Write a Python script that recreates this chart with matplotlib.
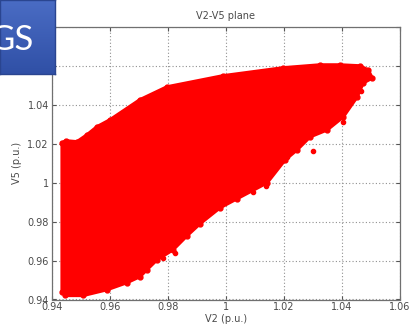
import numpy as np
import matplotlib.pyplot as plt

# outline of the V2/V5 operating-point cloud, traced clockwise from lower left
v2_edge = [0.9436, 0.9436, 0.9449, 0.9487, 0.9522, 0.9556, 0.9601, 0.9704,
           0.9797, 0.9990, 1.0197, 1.0324, 1.0393, 1.0462, 1.0490, 1.0504,
           1.0473, 1.0452, 1.0404, 1.0349, 1.0290, 1.0245, 1.0204, 1.0142,
           1.0038, 0.9980, 0.9911, 0.9866, 0.9818, 0.9763, 0.9728, 0.9704,
           0.9659, 0.9591, 0.9508, 0.9446]
v5_edge = [0.9441, 1.0205, 1.0215, 1.0210, 1.0246, 1.0287, 1.0323, 1.0426,
           1.0492, 1.0549, 1.0590, 1.0605, 1.0605, 1.0600, 1.0579, 1.0538,
           1.0513, 1.0441, 1.0338, 1.0272, 1.0236, 1.0169, 1.0118, 1.0000,
           0.9918, 0.9872, 0.9790, 0.9728, 0.9656, 0.9605, 0.9554, 0.9518,
           0.9487, 0.9451, 0.9421, 0.9421]

# isolated points just outside the dense part
stray_v2 = [1.0404, 1.0300, 1.0211, 1.0138, 0.9825, 0.9784, 1.0466, 1.0095]
stray_v5 = [1.0313, 1.0164, 1.0133, 0.9985, 0.9641, 0.9615, 1.0470, 0.9950]

xticks = [0.94, 0.96, 0.98, 1.0, 1.02, 1.04, 1.06]
xlabels = ['0.94', '0.96', '0.98', '1', '1.02', '1.04', '1.06']
yticks = [0.94, 0.96, 0.98, 1.0, 1.02, 1.04, 1.06, 1.08]
ylabels = ['0.94', '0.96', '0.98', '1', '1.02', '1.04', '', '']

W, H = 409, 333
fig = plt.figure(figsize=(W / 100, H / 100), dpi=100)
ax = fig.add_axes([51.7 / W, 1 - 299.5 / H, (400 - 51.7) / W, (299.5 - 27) / H])

# the cloud: filled outline plus markers on the edge for the ragged border
ax.fill(v2_edge, v5_edge, color='#ff0000', lw=2.5, zorder=3)
ax.plot(v2_edge, v5_edge, 'o', color='#ff0000', ms=3.5, zorder=3)
ax.plot(stray_v2, stray_v5, 'o', color='#ff0000', ms=3, zorder=3)

ax.set_xlim(0.94, 1.06)
ax.set_ylim(0.94, 1.08)
ax.set_xticks(xticks)
ax.set_yticks(yticks)
ax.set_xticklabels(xlabels)
ax.set_yticklabels(ylabels)

ax.grid(True, linestyle=(0, (1, 2)), color='#909090', lw=0.8, zorder=1)
ax.tick_params(direction='in', length=3, width=0.8, color='#555555',
               labelsize=7, labelcolor='#4a4a4a', top=True, right=True, pad=2)
for s in ax.spines.values():
    s.set_color('#707070')
    s.set_linewidth(0.9)

ax.set_title('V2-V5 plane', fontsize=7, color='#4a4a4a', pad=6)
ax.set_xlabel('V2 (p.u.)', fontsize=7, color='#4a4a4a', labelpad=1)
ax.set_ylabel('V5 (p.u.)', fontsize=7, color='#4a4a4a', labelpad=4)

# blue title tab in the corner
tab = fig.add_axes([0, 1 - 74 / H, 55 / W, 74 / H])
grad = np.linspace(0, 1, 64).reshape(-1, 1)
top = np.array([0x4a, 0x6c, 0xc4]) / 255
bot = np.array([0x30, 0x50, 0xa6]) / 255
img = top + (bot - top) * grad[:, :, None]
tab.imshow(img, aspect='auto', extent=[0, 1, 0, 1])
tab.set_xlim(0, 1)
tab.set_ylim(0, 1)
tab.set_xticks([])
tab.set_yticks([])
for s in tab.spines.values():
    s.set_color('#2a4590')
    s.set_linewidth(1.0)
tab.text(34 / 55, 1 - 40 / 74, 'GS', color='white', fontsize=25,
         family='Lato', ha='right', va='center', transform=tab.transAxes)

fig.savefig('out.png', dpi=100)
